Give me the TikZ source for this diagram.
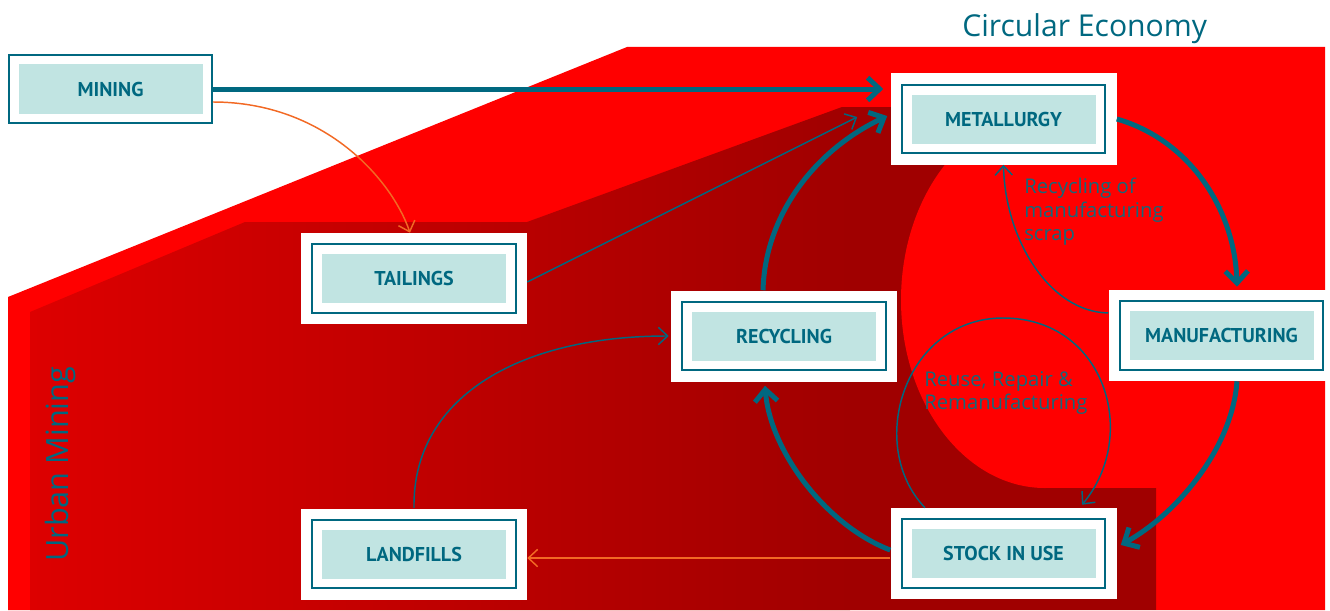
\documentclass[tikz,border=0pt]{standalone}
\usepackage{fontspec}
\setmainfont{Open Sans}
\newfontfamily\boxfont{PT Sans}
\usetikzlibrary{arrows.meta,calc}
\definecolor{tealc}{RGB}{0,104,128}
\definecolor{labelteal}{RGB}{20,104,122}
\definecolor{boxfill}{RGB}{193,228,226}
\definecolor{brightred}{RGB}{255,0,0}
\definecolor{darkA}{RGB}{221,0,0}
\definecolor{darkB}{RGB}{160,0,0}
\definecolor{orng}{RGB}{242,105,36}
\tikzset{
  box/.style={fill=white, minimum width=169.5pt, minimum height=68.25pt, inner sep=0pt,
    text=tealc, font=\boxfont\bfseries\fontsize{15}{18}\selectfont,
    path picture={
      \fill[boxfill] ([shift={(15.75pt,15.75pt)}]path picture bounding box.south west)
        rectangle ([shift={(-15.75pt,-15.75pt)}]path picture bounding box.north east);
      \draw[tealc, line width=1.5pt] ([shift={(8.6pt,8.6pt)}]path picture bounding box.south west)
        rectangle ([shift={(-8.6pt,-8.6pt)}]path picture bounding box.north east);
    }},
  thickarr/.style={draw=tealc, line width=3.75pt, -{Straight Barb[length=9pt,width=17pt]}},
  thinarr/.style={draw=tealc, line width=1.1pt, -{Straight Barb[length=7pt,width=13pt]}},
  orangearr/.style={thinarr, draw=orng},
  flowlabel/.style={anchor=base west, inner sep=0pt, text=labelteal, font=\fontsize{15.2}{18}\selectfont},
  title/.style={inner sep=0pt, text=tealc}
}
\begin{document}
\begin{tikzpicture}[x=0.75pt,y=-0.75pt]
\useasboundingbox (0,0) rectangle (1330,610);
\clip (0,0) rectangle (1330,610);
% backgrounds
\fill[brightred] (8,297) -- (627,47) -- (1325,47) -- (1325,610) -- (8,610) -- cycle;
\begin{scope}
  \clip (30,312) -- (245,222) -- (527,222) -- (842,107) -- (1045,107) -- (1045,488) -- (1156,488) -- (1156,610) -- (30,610) -- cycle;
  \shade[left color=darkA, right color=darkB] (30,100) rectangle (850,610);
  \fill[darkB] (849,100) rectangle (1160,610);
\end{scope}
\fill[brightred] (1045,300) ellipse [x radius=144, y radius=188];
% nodes
\node[box] (mining) at (110.5,89) {MINING};
\node[box] (met) at (1003.5,119) {METALLURGY};
\node[box] (tail) at (414,278.5) {TAILINGS};
\node[box] (rec) at (784,336) {RECYCLING};
\node[box] (manu) at (1221.5,335.5) {MANUFACTURING};
\node[box] (land) at (414,554) {LANDFILLS};
\node[box] (stock) at (1003.5,553.5) {STOCK IN USE};
% connectors
\draw[thickarr] ([xshift=-8.25pt]mining.east) -- ([xshift=-5.25pt]mining.east -| met.west);
\draw[orangearr] ([xshift=-8.25pt,yshift=-9.75pt]mining.east) .. controls (325,102) and (392,180) .. ([xshift=-3pt]tail.north);
\draw[thinarr] ([yshift=-2.6pt]tail.east) -- ([xshift=-24.75pt,yshift=1.5pt]met.west);
\draw[thickarr] ([xshift=-15.75pt]rec.north) .. controls (765,215) and (815,150) .. ([xshift=-2.25pt,yshift=2.25pt]met.west);
\draw[thickarr] (met.east) .. controls (1190,140) and (1235,210) .. ([xshift=11.6pt,yshift=2.25pt]manu.north);
\draw[thickarr] ([xshift=11.6pt]manu.south) .. controls (1232,450) and (1175,515) .. ([xshift=3pt,yshift=6.4pt]stock.east);
\draw[thickarr] ([yshift=2.6pt]stock.west) .. controls (825,525) and (770,450) .. ([xshift=-14.25pt,yshift=-3pt]rec.south);
\draw[thinarr] (land.north) .. controls (412,400) and (515,336) .. ([xshift=-1.5pt]rec.west);
\coordinate (stockout) at ([yshift=-3.4pt]stock.west);
\draw[orangearr] (stockout) -- (stockout -| land.east);
\draw[thinarr] ([yshift=16.9pt]manu.west) .. controls (1050,312) and (1005,240) .. (met.south);
\draw[thinarr] ([xshift=-58.9pt]stock.north) .. controls (865,445) and (905,318) .. (1003,318)
  .. controls (1105,318) and (1140,435) .. ([xshift=58.9pt,yshift=2.25pt]stock.north);
% texts
\node[title, anchor=base west, font=\fontsize{22.6}{27}\selectfont] (ce) at (962,37) {Circular Economy};
\node[title, anchor=base west, rotate=90, font=\fontsize{23}{28}\selectfont] (um) at (68,562) {Urban Mining};
\node[flowlabel] (rs1) at (1024,193) {Recycling of};
\node[flowlabel] (rs2) at (1024,217) {manufacturing};
\node[flowlabel] (rs3) at (1024,240) {scrap};
\node[flowlabel] (rr1) at (924,386) {Reuse, Repair \&};
\node[flowlabel] (rr2) at (924,409) {Remanufacturing};
\end{tikzpicture}
\end{document}
